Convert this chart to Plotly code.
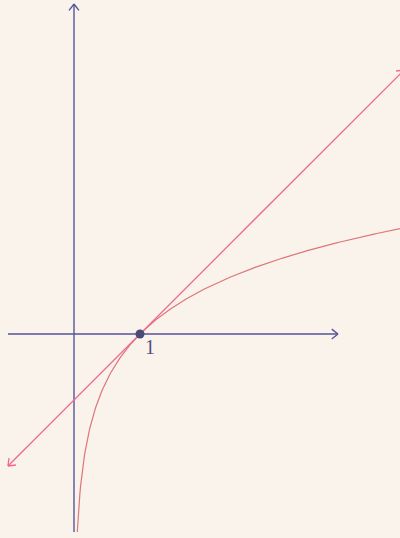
import numpy as np
import plotly.graph_objects as go

# Data
x_axis_range = [-1, 4]        # drawn x-axis extent
y_axis_range = [-3, 5]        # drawn y-axis extent
tangent_x = [-1, 5]           # tangent line y = x - 1 at x = 1
tangent_point = (1, 0)
point_label = "1"
curve_xmin = np.exp(-3)
curve_xmax = 5

W, H = 400, 538
xr = [-1.121, 4.939]
yr = [-3.091, 5.061]
sx = W / (xr[1] - xr[0])
sy = H / (yr[1] - yr[0])

AXIS = "#55559a"
TAN = "#ef6890"
CURVE = "#dc7679"
BG = "#faf3eb"

fig = go.Figure()

def chevron(x0, y0, x1, y1, color, width, L=8, ang=38):
    # arrowhead at (x1,y1) pointing from (x0,y0)
    dx, dy = (x1 - x0) * sx, (y1 - y0) * sy
    n = np.hypot(dx, dy)
    ux, uy = dx / n, dy / n
    xs, ys = [], []
    for s in (1, -1):
        a = np.radians(ang) * s
        bx = -(ux * np.cos(a) - uy * np.sin(a)) * L
        by = -(ux * np.sin(a) + uy * np.cos(a)) * L
        xs += [x1 + bx / sx, x1, None]
        ys += [y1 + by / sy, y1, None]
    fig.add_trace(go.Scatter(x=xs, y=ys, mode="lines",
                             line=dict(color=color, width=width),
                             hoverinfo="skip", showlegend=False))

# axes
fig.add_trace(go.Scatter(x=x_axis_range, y=[0, 0], mode="lines",
                         line=dict(color=AXIS, width=1.4), showlegend=False))
fig.add_trace(go.Scatter(x=[0, 0], y=y_axis_range, mode="lines",
                         line=dict(color=AXIS, width=1.4), showlegend=False))
chevron(x_axis_range[0], 0, x_axis_range[1], 0, AXIS, 1.4)
chevron(0, y_axis_range[0], 0, y_axis_range[1], AXIS, 1.4)

# ln curve
cx = np.linspace(curve_xmin, curve_xmax, 600)
fig.add_trace(go.Scatter(x=cx, y=np.log(cx), mode="lines",
                         line=dict(color=CURVE, width=1.2), showlegend=False))

# tangent
ty = [t - 1 for t in tangent_x]
fig.add_trace(go.Scatter(x=tangent_x, y=ty, mode="lines",
                         line=dict(color=TAN, width=1.3), showlegend=False))
chevron(tangent_x[1], ty[1], tangent_x[0], ty[0], TAN, 1.3)
chevron(tangent_x[0], ty[0], tangent_x[1], ty[1], TAN, 1.3)

# point
fig.add_trace(go.Scatter(x=[tangent_point[0]], y=[tangent_point[1]], mode="markers",
                         marker=dict(color="#4a4a78", size=9), showlegend=False))
fig.add_annotation(x=tangent_point[0], y=tangent_point[1], text=point_label,
                   showarrow=False, xshift=10, yshift=-13,
                   font=dict(family="Liberation Serif", size=20, color="#50507e"))

fig.update_layout(width=W, height=H, margin=dict(l=0, r=0, t=0, b=0),
                  paper_bgcolor=BG, plot_bgcolor=BG,
                  xaxis=dict(range=xr, visible=False, fixedrange=True),
                  yaxis=dict(range=yr, visible=False, fixedrange=True),
                  showlegend=False)
fig.write_html("out.html", config={"displayModeBar": False},
               post_script="document.body.style.margin='0';document.body.style.background='%s';document.body.style.overflow='hidden';" % BG)
